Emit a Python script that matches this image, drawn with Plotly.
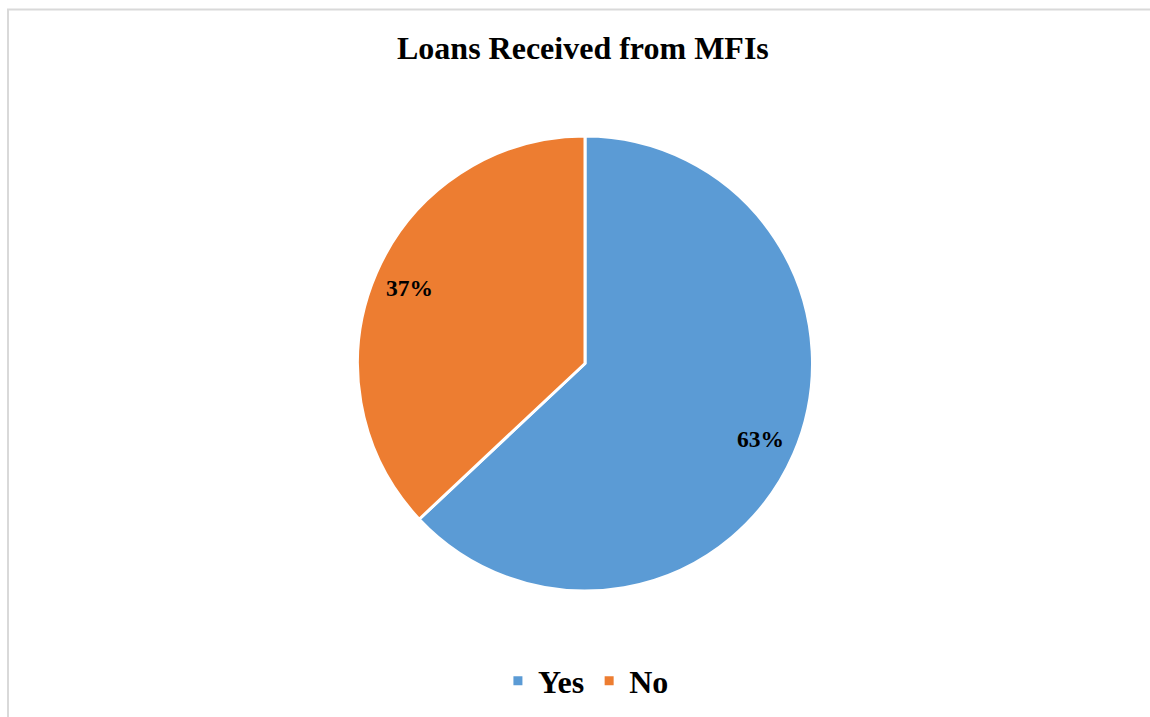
import math
import plotly.graph_objects as go

categories = ["Yes", "No"]
values = [63, 37]
colors = ["#5B9BD5", "#ED7D31"]
title_text = "Loans Received from MFIs"

W, H = 1150, 717
cx, cy, R = 585, 363.5, 227.5
FONT = "Liberation Serif, Times New Roman, serif"

fig = go.Figure()
fig.add_trace(go.Pie(
    labels=categories,
    values=values,
    sort=False,
    direction="clockwise",
    rotation=0,
    marker=dict(colors=colors, line=dict(color="white", width=3)),
    textinfo="none",
    hoverinfo="label+percent",
    domain=dict(x=[(cx - R) / W, (cx + R) / W], y=[1 - (cy + R) / H, 1 - (cy - R) / H]),
))

# percentage labels placed along the middle angle of each slice
total = sum(values)
annotations = []
start = 0.0
for v in values:
    frac = v / total
    mid = (start + frac / 2) * 2 * math.pi
    start += frac
    rr = 0.84 * R
    px = cx + rr * math.sin(mid)
    py = cy - rr * math.cos(mid)
    annotations.append(dict(
        x=px / W, y=1 - py / H, xref="paper", yref="paper",
        text=f"<b>{round(frac * 100)}%</b>", showarrow=False,
        font=dict(family=FONT, size=23.5, color="black"),
        xanchor="center", yanchor="middle",
    ))

annotations.append(dict(
    x=583 / W, y=1 - 48 / H, xref="paper", yref="paper",
    text=f"<b>{title_text}</b>", showarrow=False,
    font=dict(family=FONT, size=32, color="black"),
    xanchor="center", yanchor="middle",
))

fig.update_layout(
    width=W, height=H,
    margin=dict(l=0, r=0, t=0, b=0),
    paper_bgcolor="white",
    plot_bgcolor="white",
    annotations=annotations,
    showlegend=True,
    legend=dict(
        orientation="h",
        x=0.5095, xanchor="center",
        y=1 - 681 / H, yanchor="middle",
        font=dict(family=FONT, size=32, color="black", weight="bold"),
        itemclick=False,
    ),
    shapes=[dict(
        type="rect", xref="paper", yref="paper",
        x0=8 / W, x1=1.02, y0=-0.02, y1=1 - 9.5 / H,
        line=dict(color="#d9d9d9", width=2), fillcolor="rgba(0,0,0,0)",
        layer="below",
    )],
)

fig.write_html("out.html")
